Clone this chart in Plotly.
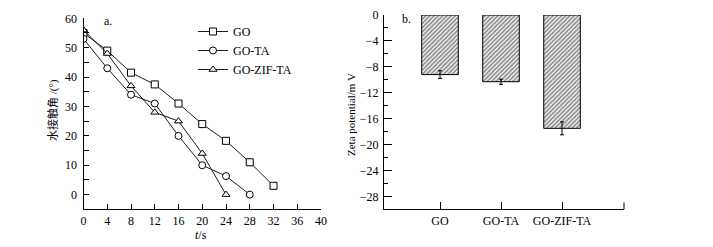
import plotly.graph_objects as go

# ---- data ----
t_GO = [0, 4, 8, 12, 16, 20, 24, 28, 32]
angle_GO = [55, 49, 41.5, 37.5, 31, 24, 18.3, 11, 3]
t_GOTA = [0, 4, 8, 12, 16, 20, 24, 28]
angle_GOTA = [53, 43, 34, 31, 20, 10, 6.3, 0]
t_GOZIF = [0, 4, 8, 12, 16, 20, 24]
angle_GOZIF = [56, 48, 37, 28, 25, 14, 0]

samples = ["GO", "GO-TA", "GO-ZIF-TA"]
zeta = [-9.2, -10.3, -17.5]
zeta_err = [0.6, 0.4, 1.0]

x_ticks = [0, 4, 8, 12, 16, 20, 24, 28, 32, 36, 40]
y_ticks_a = [0, 10, 20, 30, 40, 50, 60]
y_ticks_b = [0, -4, -8, -12, -16, -20, -24, -28]

FONT = "Liberation Serif, Times New Roman, Noto Sans CJK SC, serif"
W, H = 713, 247

fig = go.Figure()

series = [
    ("GO", t_GO, angle_GO, "square"),
    ("GO-TA", t_GOTA, angle_GOTA, "circle"),
    ("GO-ZIF-TA", t_GOZIF, angle_GOZIF, "triangle-up"),
]
for name, xs, ys, sym in series:
    fig.add_trace(go.Scatter(
        x=xs, y=ys, name=name, mode="lines+markers",
        line=dict(color="black", width=0.9),
        marker=dict(symbol=sym, size=7, color="white",
                    line=dict(color="black", width=1)),
        xaxis="x", yaxis="y",
    ))

fig.add_trace(go.Bar(
    x=samples, y=zeta, width=0.6, showlegend=False,
    marker=dict(color="white", line=dict(color="black", width=1),
                pattern=dict(shape="/", fgcolor="#222", bgcolor="white",
                             size=3, solidity=0.6)),
    error_y=dict(type="data", array=zeta_err, color="black",
                 thickness=1, width=2),
    xaxis="x2", yaxis="y2",
))

def px_x(p):
    return p / W

def px_y(p):
    return 1 - p / H

axis_common = dict(showline=True, linecolor="black", linewidth=1,
                   showgrid=False, zeroline=False, ticks="inside",
                   automargin=False,
                   tickcolor="black", tickfont=dict(family=FONT, size=12, color="black"))

fig.update_layout(
    width=W, height=H,
    margin=dict(l=0, r=0, t=0, b=0, autoexpand=False),
    paper_bgcolor="white", plot_bgcolor="white",
    font=dict(family=FONT, size=12, color="black"),
    xaxis=dict(domain=[px_x(83.5), px_x(321)], range=[0, 40],
               tickvals=x_ticks, ticklen=5, anchor="y", **axis_common),
    yaxis=dict(domain=[px_y(209.3), px_y(18.3)], range=[-5, 60],
               tickvals=y_ticks_a, ticklen=5, anchor="x", ticklabelstandoff=3,
               minor=dict(dtick=5, ticklen=5, ticks="inside", tickcolor="black"),
               **axis_common),
    xaxis2=dict(domain=[px_x(384), px_x(624)], range=[-0.918, 3.016],
                ticklen=7, anchor="y2", **axis_common),
    yaxis2=dict(domain=[px_y(209.3), px_y(15)], range=[-30, 0],
                tickvals=y_ticks_b, ticklen=8, anchor="x2", ticklabelstandoff=2,
                minor=dict(dtick=2, ticklen=4, ticks="inside", tickcolor="black"),
                **axis_common),
    legend=dict(x=px_x(193), y=px_y(17), xanchor="left", yanchor="top",
                bgcolor="rgba(0,0,0,0)", font=dict(family=FONT, size=12),
                itemwidth=30, tracegroupgap=0),
    showlegend=True,
)

def note(text, x, y, size=12, angle=0):
    fig.add_annotation(text=text, xref="paper", yref="paper", x=px_x(x), y=px_y(y),
                       xanchor="center", yanchor="middle", textangle=angle,
                       showarrow=False, font=dict(family=FONT, size=size))

note("a.", 108, 21)
note("b.", 406, 19)
note("水接触角 /(°)", 53, 110, size=11, angle=-90)
note("<i>t</i>/s", 201, 235)
note("Zeta potential/m V", 351, 115, size=11, angle=-90)

# closing tick at right end of panel b's x-axis
fig.add_shape(type="line", xref="x2 domain", yref="y2 domain", x0=1, x1=1,
              y0=0, y1=0.036, line=dict(color="black", width=1))

fig.write_html("out.html", config={"displayModeBar": False},
               post_script="document.body.style.margin='0px';document.body.style.padding='0px';")
